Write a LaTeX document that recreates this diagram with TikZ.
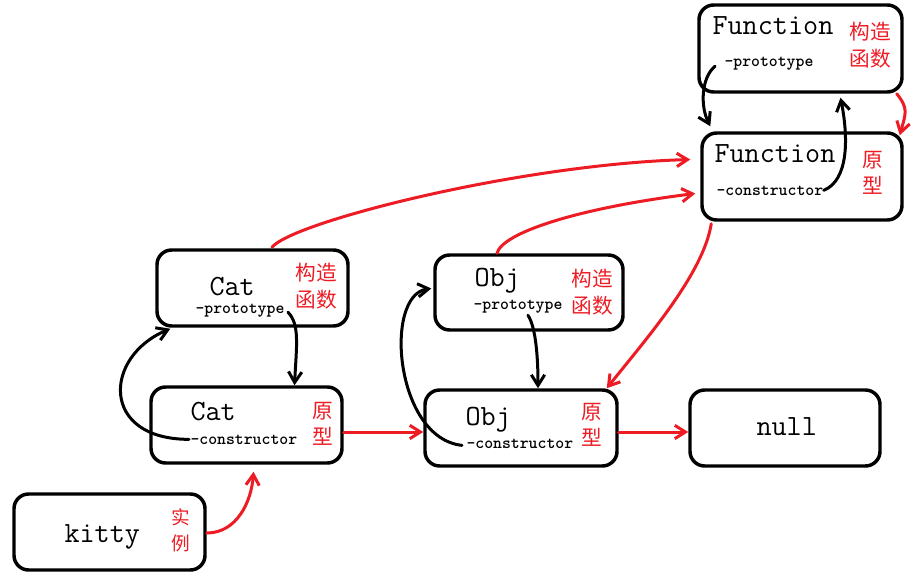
\documentclass[tikz,border=0pt]{standalone}
\usepackage{fontspec}
\newfontfamily\zhfont{Noto Sans CJK SC}
\usetikzlibrary{arrows.meta}
\definecolor{paintred}{RGB}{237,28,36}
\tikzset{every picture/.style={line width=0.75pt}}
\tikzset{
  box/.style 2 args={draw, rounded corners=11pt, line width=2.6pt, minimum width=#1*0.75pt, minimum height=#2*0.75pt, inner sep=0pt},
  cls/.style={anchor=base west, inner sep=0pt, font=\ttfamily\fontsize{22}{24}\selectfont},
  member/.style={anchor=base west, inner sep=0pt, font=\ttfamily\bfseries\fontsize{12.7}{14}\selectfont},
  zh/.style={align=center, inner sep=0pt, text=paintred, font=\zhfont\fontsize{15.5}{20}\selectfont},
  blink/.style={line width=2.25pt, line cap=round, -{Straight Barb[length=8pt,width=10pt]}},
  rlink/.style={blink, draw=paintred},
}
\begin{document}
\begin{tikzpicture}[x=0.75pt,y=0.75pt,yscale=-1,xscale=1]
\useasboundingbox (0,0) rectangle (920,584);

%Shape: Rounded Rectangle
\node[box={203}{87}] (fnc) at (800.5,48.5) {};
\node[box={200}{87}] (fnp) at (802,176.5) {};
\node[box={191}{76}] (catc) at (252.5,288) {};
\node[box={191}{76}] (catp) at (246.5,425) {};
\node[box={188}{75}] (objc) at (529,292.5) {};
\node[box={192}{76}] (objp) at (521,428) {};
\node[box={190}{76}] (nul) at (785,428) {};
\node[box={191}{76}] (kitty) at (109.5,532) {};

% Text Node
\node[cls] (fncname) at (712,35) {Function};
\node[member] (fncpro) at (724,67) {-prototype};
\node[zh] (fnczh) at (870.5,45) {构造\\函数};
% Text Node
\node[cls] (fnpname) at (714,163) {Function};
\node[member] (fnpcon) at (716,196) {-constructor};
\node[zh] (fnpzh) at (873,173) {原\\型};
% Text Node
\node[cls] (catcname) at (209,296) {Cat};
\node[member] (catcpro) at (195,314) {-prototype};
\node[zh] (catczh) at (316,286.5) {构造\\函数};
% Text Node
\node[cls] (catpname) at (190,420) {Cat};
\node[member] (catpcon) at (190,444) {-constructor};
\node[zh] (catpzh) at (322.5,424) {原\\型};
% Text Node
\node[cls] (objcname) at (474,287) {Obj};
\node[member] (objcpro) at (473,310) {-prototype};
\node[zh] (objczh) at (592.5,292.5) {构造\\函数};
% Text Node
\node[cls] (objpname) at (465,425) {Obj};
\node[member] (objpcon) at (466,448) {-constructor};
\node[zh] (objpzh) at (592,425) {原\\型};
% Text Node
\node[cls] (nulname) at (756,435) {null};
\node[cls] (kittyname) at (64,542) {kitty};
\node[zh, font=\zhfont\fontsize{14}{19.5}\selectfont] (kittyzh) at (181,530) {实\\例};

%Curve Lines
\draw[blink] ([shift={(-9,2)}]fncpro.west) .. controls +(-14,12) and +(-10,-20) .. ([shift={(10,-5)}]fnp.north west);
\draw[blink] ([shift={(0,-1)}]fnpcon.east) .. controls +(25,-10) and +(8,40) .. ([shift={(40,4)}]fnc.south);
\draw[blink] ([shift={(3,1)}]catcpro.east) .. controls +(12,12) and +(2,-40) .. ([shift={(48,0)}]catp.north);
\draw[blink] ([shift={(-1,0)}]catpcon.west) .. controls +(-89,0) and +(-67,28) .. ([shift={(15,1)}]catc.south west);
\draw[blink] ([shift={(10,1)}]objcpro.south) .. controls +(8,12) and +(0,-30) .. ([shift={(17,0)}]objp.north);
\draw[blink] ([shift={(-4,2)}]objpcon.west) .. controls +(-67,-7) and +(-48,6.5) .. ([shift={(-2,-4)}]objc.west);

%Curve Lines
\draw[rlink] ([shift={(19.5,-1)}]catc.north) .. controls +(20,-25) and +(-172,5) .. ([shift={(-10,-17)}]fnp.west);
\draw[rlink] ([shift={(-32,0)}]objc.north) .. controls +(5,-20) and +(-120,15) .. ([shift={(-5,17)}]fnp.west);
\draw[rlink] ([shift={(11,2)}]fnp.south west) .. controls +(-8,50) and +(40,-50) .. ([shift={(-12,0)}]objp.north east);
\draw[rlink] ([shift={(-7,0)}]fnc.south east) .. controls +(12,15) and +(6,-22) .. ([shift={(-4,4)}]fnp.north east);
\draw[rlink] ([shift={(0,1)}]kitty.east) .. controls +(30,0) and +(-2,30) .. ([shift={(7,7)}]catp.south);

%Straight Lines
\draw[rlink] ([shift={(0,7)}]catp.east) -- ([shift={(0,4)}]objp.west);
\draw[rlink] ([shift={(0,4)}]objp.east) -- ([shift={(0,4)}]nul.west);
\end{tikzpicture}
\end{document}
